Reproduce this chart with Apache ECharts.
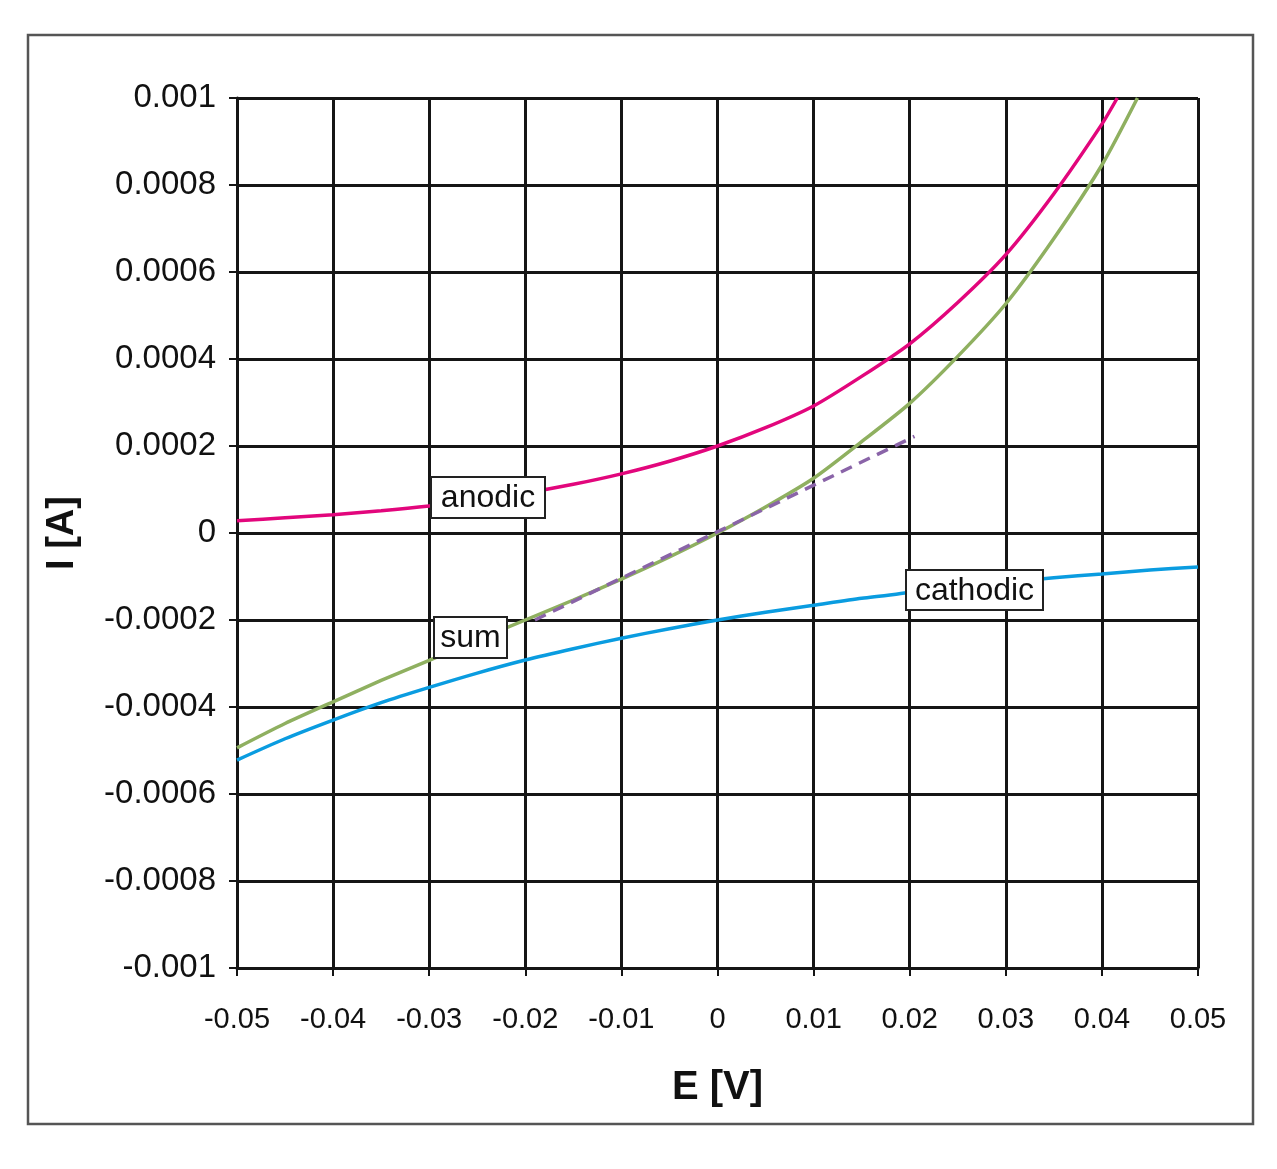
<!DOCTYPE html>
<html>
<head>
<meta charset="utf-8">
<script src="https://cdn.jsdelivr.net/npm/echarts@6/dist/echarts.min.js"></script>
<style>
  html, body { margin: 0; padding: 0; background: #fff; }
  #chart { width: 1277px; height: 1169px; }
</style>
</head>
<body>
<div id="chart"></div>
<script>
// potential E [V] and current I [A]
const anodicE = [-0.05, -0.045, -0.04, -0.035, -0.03, -0.025, -0.02, -0.015, -0.01, -0.005, 0,
    0.005, 0.01, 0.015, 0.02, 0.025, 0.03, 0.035, 0.04, 0.0416];
const anodicI = [0.000028, 0.000035, 0.000042, 0.000051, 0.000062, 0.000076, 0.000092, 0.000112, 0.000136, 0.000165, 0.0002,
    0.000242, 0.000292, 0.00036, 0.000435, 0.00053, 0.00064, 0.00078, 0.00094, 0.001];

const cathodicE = [-0.05, -0.045, -0.04, -0.035, -0.03, -0.025, -0.02, -0.015, -0.01, -0.005, 0,
    0.005, 0.01, 0.015, 0.02, 0.025, 0.03, 0.035, 0.04, 0.045, 0.05];
const cathodicI = [-0.000522, -0.000473, -0.00043, -0.00039, -0.000355, -0.000322, -0.000292, -0.000266, -0.000242, -0.00022, -0.0002,
    -0.000182, -0.000166, -0.00015, -0.000137, -0.000124, -0.000113, -0.000103, -0.000094, -0.000085, -0.000078];

const sumE = [-0.05, -0.045, -0.04, -0.035, -0.03, -0.025, -0.02, -0.015, -0.01, -0.005, 0,
    0.005, 0.01, 0.015, 0.02, 0.025, 0.03, 0.035, 0.04, 0.0437];
const sumI = [-0.000494, -0.000438, -0.000388, -0.000339, -0.000293, -0.000246, -0.0002, -0.000154, -0.000106, -0.000055, 0,
    0.00006, 0.000126, 0.00021, 0.000298, 0.000406, 0.000527, 0.000677, 0.000846, 0.001];

// linear approximation near E = 0 (dashed)
const linearE = [-0.019, 0.0205];
const linearI = [-0.0002, 0.000222];

const pairs = (xs, ys) => xs.map((x, i) => [x, ys[i]]);

const chart = echarts.init(document.getElementById('chart'));

const gridColor = '#151515';
const font = 'Arial, "Liberation Sans", sans-serif';

// кривые
const line = (name, xs, ys, color, dashed) => ({
    name,
    type: 'line',
    data: pairs(xs, ys),
    showSymbol: false,
    smooth: dashed ? false : 0.25,
    silent: true,
    lineStyle: { color, width: 3.5, type: dashed ? [12, 8] : 'solid' },
    z: dashed ? 4 : 3
});

// подписи кривых в рамках
const tag = (text, x, y, w, h) => ({
    type: 'group',
    children: [
        {
            type: 'rect',
            z: 100,
            shape: { x, y, width: w, height: h },
            style: { fill: '#fff', stroke: '#222', lineWidth: 2 }
        },
        {
            type: 'text',
            z: 101,
            style: {
                text, x: x + w / 2, y: y + h / 2 + 1,
                align: 'center', verticalAlign: 'middle',
                font: '32px ' + font, fill: '#111'
            }
        }
    ]
});

const option = {
    backgroundColor: '#fff',
    animation: false,
    grid: { left: 237, right: 79, top: 98, bottom: 201, containLabel: false },
    xAxis: {
        type: 'value',
        min: -0.05,
        max: 0.05,
        interval: 0.01,
        name: 'E [V]',
        nameLocation: 'middle',
        nameGap: 100,
        nameTextStyle: { fontSize: 40, fontWeight: 'bold', color: '#111', fontFamily: font },
        axisLine: { onZero: false, lineStyle: { color: gridColor, width: 3 } },
        axisTick: { show: true, length: 8, lineStyle: { color: gridColor, width: 2 } },
        axisLabel: {
            fontSize: 29, color: '#111', fontFamily: font, margin: 37,
            formatter: v => String(+v.toFixed(2))
        },
        splitLine: { show: true, lineStyle: { color: gridColor, width: 3 } }
    },
    yAxis: {
        type: 'value',
        min: -0.001,
        max: 0.001,
        interval: 0.0002,
        name: 'I [A]',
        nameLocation: 'middle',
        nameGap: 155,
        nameTextStyle: { fontSize: 38, fontWeight: 'bold', color: '#111', fontFamily: font },
        axisLine: { onZero: false, lineStyle: { color: gridColor, width: 3 } },
        axisTick: { show: true, length: 8, lineStyle: { color: gridColor, width: 2 } },
        axisLabel: {
            fontSize: 33, color: '#111', fontFamily: font, margin: 21,
            formatter: v => String(+v.toFixed(4))
        },
        splitLine: { show: true, lineStyle: { color: gridColor, width: 3 } }
    },
    series: [
        line('anodic', anodicE, anodicI, '#e2067c'),
        line('cathodic', cathodicE, cathodicI, '#0a9ce0'),
        line('sum', sumE, sumI, '#8fb060'),
        line('linear', linearE, linearI, '#8a64a8', true)
    ],
    graphic: [
        {
            type: 'rect',
            z: -1,
            shape: { x: 28, y: 35, width: 1225, height: 1089 },
            style: { fill: 'none', stroke: '#555', lineWidth: 2.5 }
        },
        tag('anodic', 431, 477, 114, 41),
        tag('sum', 434, 617, 73, 41),
        tag('cathodic', 906, 570, 137, 40)
    ]
};

chart.setOption(option);
</script>
</body>
</html>
